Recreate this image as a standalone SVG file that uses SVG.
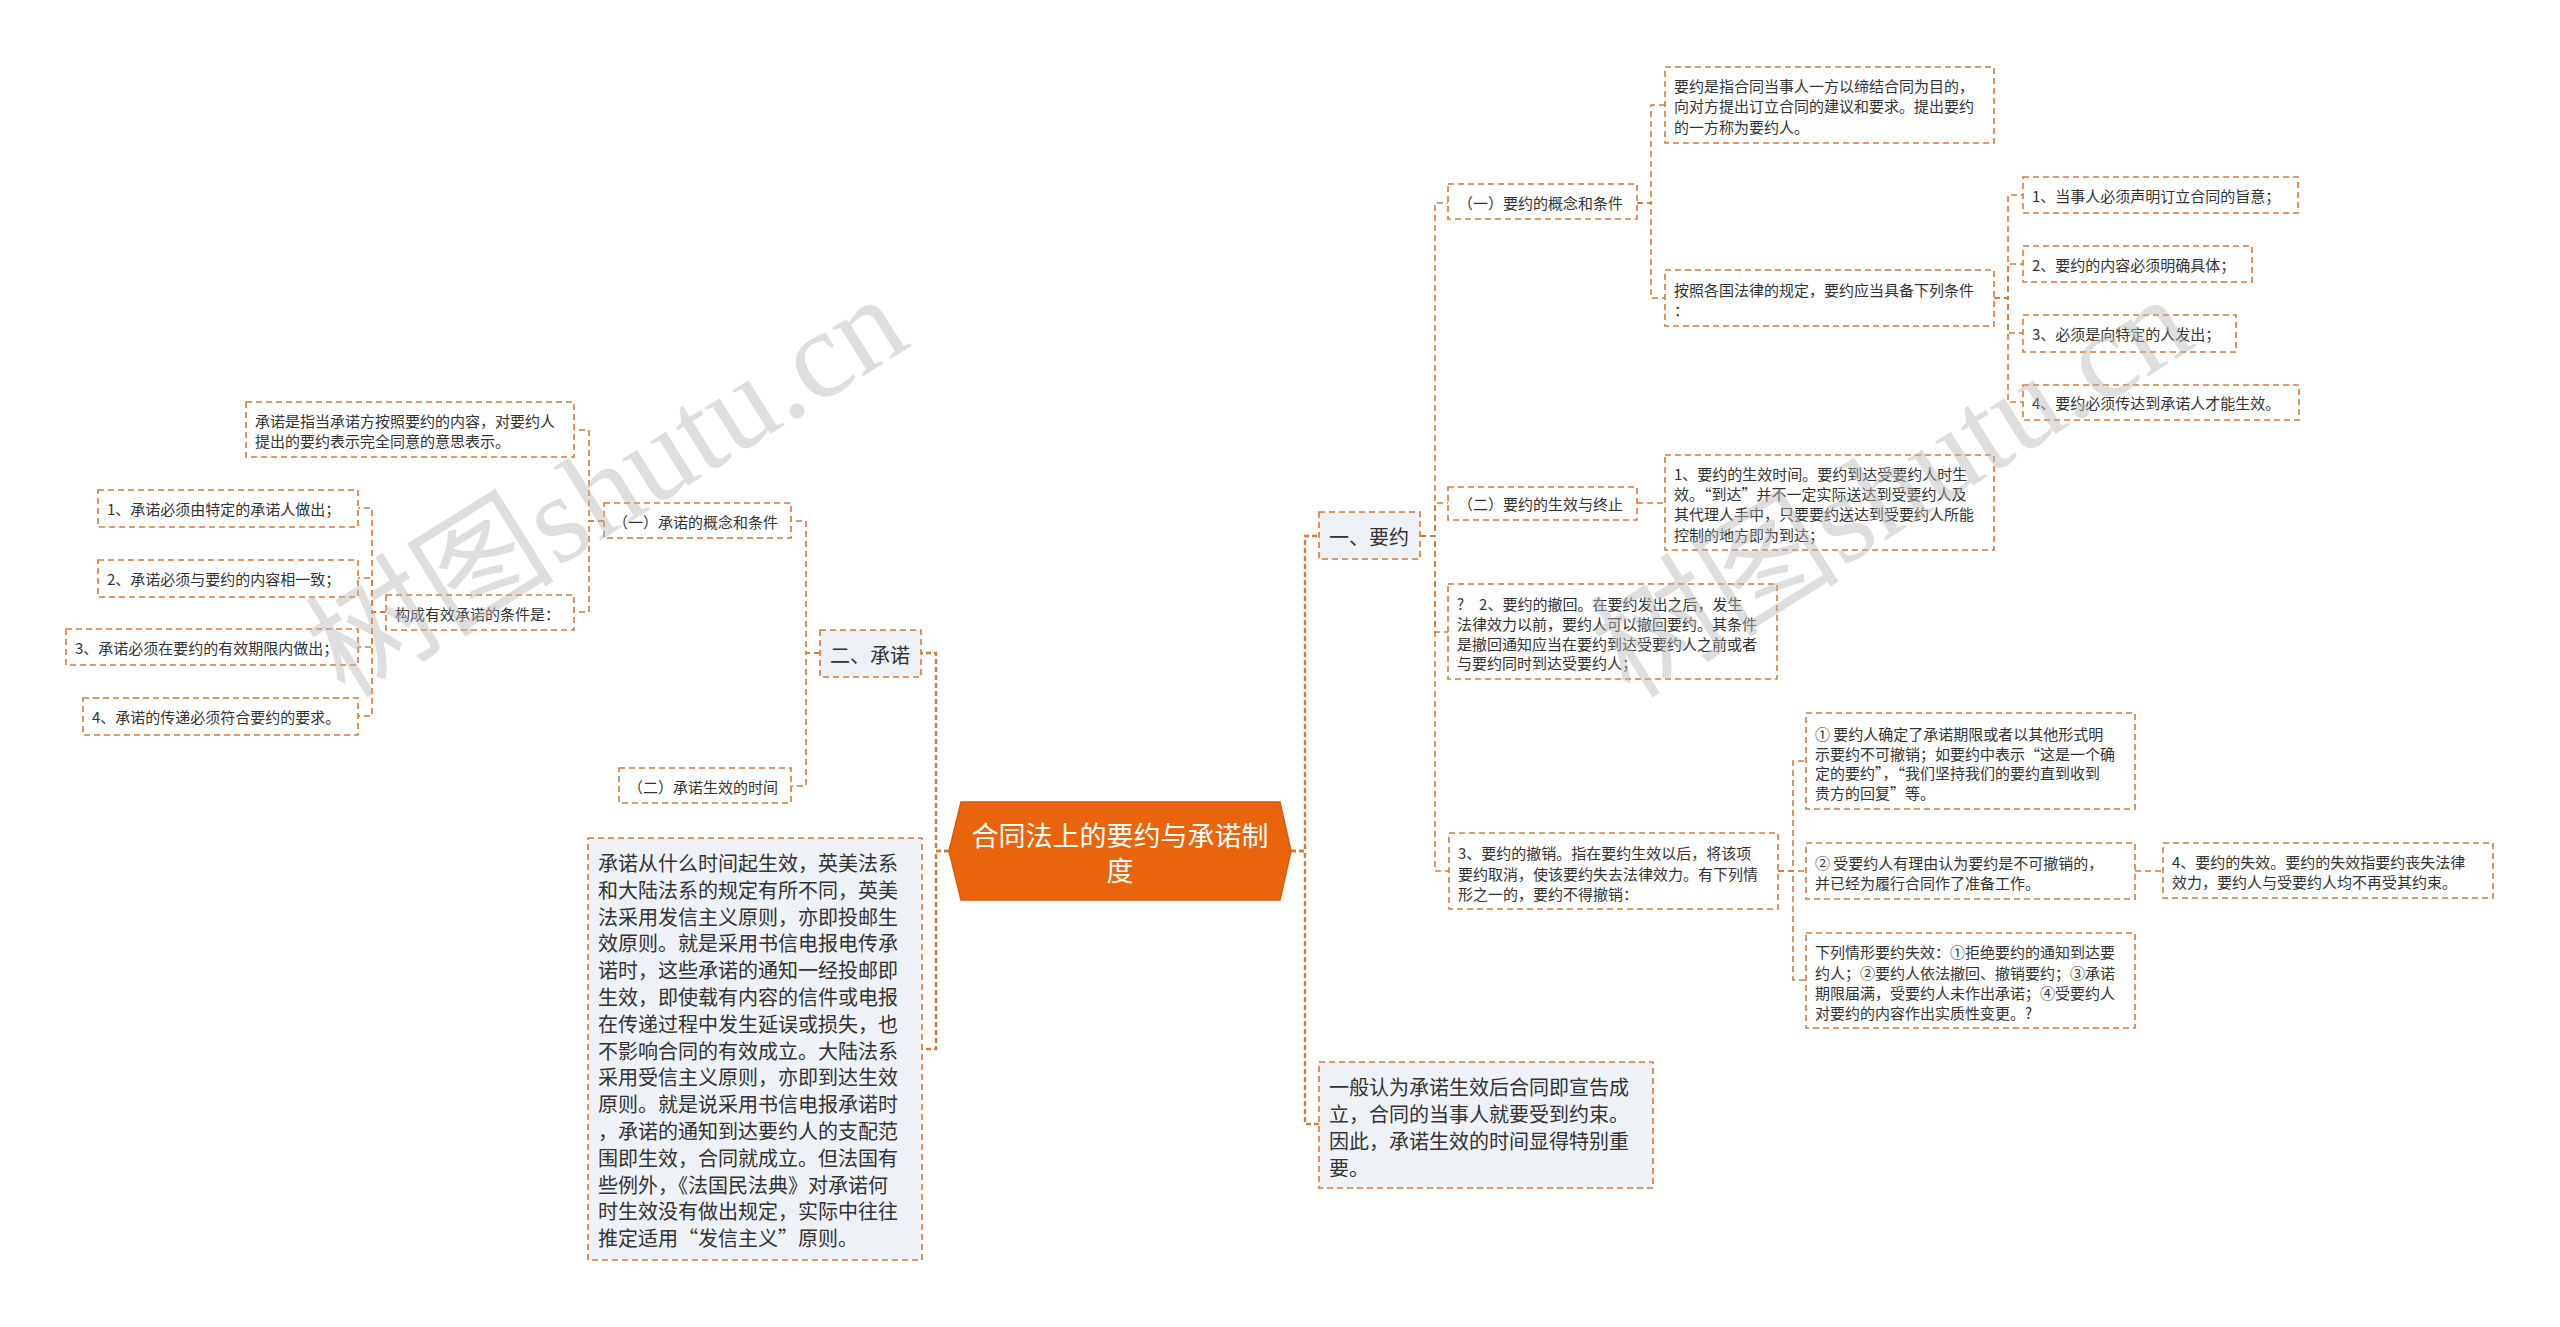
<svg xmlns="http://www.w3.org/2000/svg" width="2560" height="1327" viewBox="0 0 2560 1327">
<style>
.bg{fill:#fff}
.box{fill:#fff;stroke:#D67B38;stroke-width:1.6;stroke-dasharray:6 4}
.gray{fill:#EEF1F5}
.t{font-family:"Noto Sans CJK SC","Noto Sans",sans-serif;font-size:15px;fill:#333;dominant-baseline:central}
.t20{font-size:20px}
.root{fill:#EA640C;stroke:#D95A08;stroke-width:1.5}
.rt{font-family:"Noto Sans CJK SC","Noto Sans",sans-serif;font-size:27px;fill:#fff;text-anchor:middle;dominant-baseline:central}
.conn path{fill:none;stroke:#D67B38;stroke-width:1.6;stroke-dasharray:6 4}
.conn path.main{stroke-width:2.4;stroke-dasharray:5 3}
.wm{font-family:"Liberation Serif","Noto Sans CJK SC",serif;font-size:125px;fill:#b5b5b5;fill-opacity:0.45}
</style>
<rect class="bg" x="0" y="0" width="2560" height="1327"/>
<g id="connectors" class="conn">
<path class="main" d="M1291 851 H1305 V536 H1319"/>
<path class="main" d="M1291 851 H1305 V1124 H1319"/>
<path class="main" d="M949 851 H936 V653 H921"/>
<path class="main" d="M949 851 H936 V1049 H922"/>
<path d="M1420 536 H1435 V203 H1448"/>
<path d="M1420 536 H1435 V503 H1448"/>
<path d="M1420 536 H1435 V632 H1448"/>
<path d="M1420 536 H1435 V871 H1449"/>
<path d="M1637 203 H1651 V105 H1665"/>
<path d="M1637 203 H1651 V298 H1665"/>
<path d="M1994 298 H2008 V195 H2023"/>
<path d="M1994 298 H2008 V264 H2023"/>
<path d="M1994 298 H2008 V333 H2023"/>
<path d="M1994 298 H2008 V402 H2023"/>
<path d="M1637 503 H1665"/>
<path d="M1778 871 H1793 V761 H1806"/>
<path d="M1778 871 H1806"/>
<path d="M1778 871 H1793 V980 H1806"/>
<path d="M2135 871 H2163"/>
<path d="M820 653 H806 V521 H791"/>
<path d="M820 653 H806 V786 H791"/>
<path d="M604 521 H589 V430 H574"/>
<path d="M604 521 H589 V612 H574"/>
<path d="M386 612 H372 V508 H358"/>
<path d="M386 612 H372 V578 H358"/>
<path d="M386 612 H372 V647 H358"/>
<path d="M386 612 H372 V716 H358"/>
</g>
<g id="root">
<polygon class="root" points="949,851 961,802 1280,802 1291,851 1280,900 961,900"/>
<text class="rt" x="1120" y="834">合同法上的要约与承诺制</text>
<text class="rt" x="1120" y="869">度</text>
</g>
<g id="n-yaoyue">
<rect class="box gray" x="1319" y="512" width="101" height="47"/>
<text class="t t20" x="1329" y="536">一、要约</text>
</g>
<g id="n-yiban">
<rect class="box gray" x="1319" y="1062" width="334" height="126"/>
<text class="t t20" x="1329"><tspan x="1329" y="1086">一般认为承诺生效后合同即宣告成</tspan><tspan x="1329" y="1113">立，合同的当事人就要受到约束。</tspan><tspan x="1329" y="1140">因此，承诺生效的时间显得特别重</tspan><tspan x="1329" y="1167">要。</tspan></text>
</g>
<g id="n-b">
<rect class="box" x="1448" y="184" width="189" height="35"/>
<text class="t" x="1458" y="202">（一）要约的概念和条件</text>
</g>
<g id="n-a">
<rect class="box" x="1665" y="67" width="329" height="76"/>
<text class="t"><tspan x="1674" y="85">要约是指合同当事人一方以缔结合同为目的，</tspan><tspan x="1674" y="105">向对方提出订立合同的建议和要求。提出要约</tspan><tspan x="1674" y="126">的一方称为要约人。</tspan></text>
</g>
<g id="n-c">
<rect class="box" x="1665" y="270" width="329" height="56"/>
<text class="t"><tspan x="1674" y="289">按照各国法律的规定，要约应当具备下列条件</tspan><tspan x="1674" y="309">：</tspan></text>
</g>
<g id="n-d1">
<rect class="box" x="2023" y="177" width="275" height="36"/>
<text class="t" x="2032" y="195">1、当事人必须声明订立合同的旨意；</text>
</g>
<g id="n-d2">
<rect class="box" x="2023" y="246" width="229" height="36"/>
<text class="t" x="2032" y="264">2、要约的内容必须明确具体；</text>
</g>
<g id="n-d3">
<rect class="box" x="2023" y="315" width="213" height="37"/>
<text class="t" x="2032" y="333">3、必须是向特定的人发出；</text>
</g>
<g id="n-d4">
<rect class="box" x="2023" y="385" width="276" height="35"/>
<text class="t" x="2032" y="402">4、要约必须传达到承诺人才能生效。</text>
</g>
<g id="n-e">
<rect class="box" x="1448" y="487" width="189" height="33"/>
<text class="t" x="1458" y="503">（二）要约的生效与终止</text>
</g>
<g id="n-f">
<rect class="box" x="1665" y="455" width="329" height="95"/>
<text class="t"><tspan x="1674" y="473">1、要约的生效时间。要约到达受要约人时生</tspan><tspan x="1674" y="493">效。“到达”并不一定实际送达到受要约人及</tspan><tspan x="1674" y="513">其代理人手中，只要要约送达到受要约人所能</tspan><tspan x="1674" y="534">控制的地方即为到达；</tspan></text>
</g>
<g id="n-g">
<rect class="box" x="1448" y="584" width="329" height="95"/>
<text class="t" xml:space="preserve"><tspan x="1457" y="603">?　2、要约的撤回。在要约发出之后，发生</tspan><tspan x="1457" y="623">法律效力以前，要约人可以撤回要约。其条件</tspan><tspan x="1457" y="643">是撤回通知应当在要约到达受要约人之前或者</tspan><tspan x="1457" y="662">与要约同时到达受要约人；</tspan></text>
</g>
<g id="n-h">
<rect class="box" x="1449" y="833" width="329" height="76"/>
<text class="t"><tspan x="1458" y="852">3、要约的撤销。指在要约生效以后，将该项</tspan><tspan x="1458" y="873">要约取消，使该要约失去法律效力。有下列情</tspan><tspan x="1458" y="893">形之一的，要约不得撤销：</tspan></text>
</g>
<g id="n-i1">
<rect class="box" x="1806" y="713" width="329" height="96"/>
<text class="t"><tspan x="1815" y="733">① 要约人确定了承诺期限或者以其他形式明</tspan><tspan x="1815" y="753">示要约不可撤销；如要约中表示“这是一个确</tspan><tspan x="1815" y="772">定的要约”，“我们坚持我们的要约直到收到</tspan><tspan x="1815" y="792">贵方的回复”等。</tspan></text>
</g>
<g id="n-i2">
<rect class="box" x="1806" y="843" width="329" height="56"/>
<text class="t"><tspan x="1815" y="862">② 受要约人有理由认为要约是不可撤销的，</tspan><tspan x="1815" y="882">并已经为履行合同作了准备工作。</tspan></text>
</g>
<g id="n-i3">
<rect class="box" x="1806" y="933" width="329" height="95"/>
<text class="t"><tspan x="1815" y="951">下列情形要约失效：①拒绝要约的通知到达要</tspan><tspan x="1815" y="972">约人；②要约人依法撤回、撤销要约；③承诺</tspan><tspan x="1815" y="992">期限届满，受要约人未作出承诺；④受要约人</tspan><tspan x="1815" y="1012">对要约的内容作出实质性变更。?</tspan></text>
</g>
<g id="n-j">
<rect class="box" x="2163" y="843" width="330" height="55"/>
<text class="t"><tspan x="2172" y="861">4、要约的失效。要约的失效指要约丧失法律</tspan><tspan x="2172" y="881">效力，要约人与受要约人均不再受其约束。</tspan></text>
</g>
<g id="n-chengnuo">
<rect class="box gray" x="820" y="630" width="101" height="47"/>
<text class="t t20" x="830" y="654">二、承诺</text>
</g>
<g id="n-n">
<rect class="box" x="604" y="503" width="187" height="35"/>
<text class="t" x="613" y="521">（一）承诺的概念和条件</text>
</g>
<g id="n-o">
<rect class="box" x="619" y="768" width="172" height="35"/>
<text class="t" x="628" y="786">（二）承诺生效的时间</text>
</g>
<g id="n-p">
<rect class="box" x="246" y="402" width="328" height="55"/>
<text class="t"><tspan x="255" y="420">承诺是指当承诺方按照要约的内容，对要约人</tspan><tspan x="255" y="440">提出的要约表示完全同意的意思表示。</tspan></text>
</g>
<g id="n-q">
<rect class="box" x="386" y="595" width="188" height="35"/>
<text class="t" x="395" y="613">构成有效承诺的条件是：</text>
</g>
<g id="n-r1">
<rect class="box" x="98" y="490" width="260" height="37"/>
<text class="t" x="107" y="508">1、承诺必须由特定的承诺人做出；</text>
</g>
<g id="n-r2">
<rect class="box" x="98" y="560" width="260" height="37"/>
<text class="t" x="107" y="578">2、承诺必须与要约的内容相一致；</text>
</g>
<g id="n-r3">
<rect class="box" x="66" y="629" width="292" height="36"/>
<text class="t" x="75" y="647">3、承诺必须在要约的有效期限内做出；</text>
</g>
<g id="n-r4">
<rect class="box" x="83" y="698" width="275" height="37"/>
<text class="t" x="92" y="716">4、承诺的传递必须符合要约的要求。</text>
</g>
<g id="n-s">
<rect class="box gray" x="588" y="838" width="334" height="422"/>
<text class="t t20"><tspan x="598" y="862">承诺从什么时间起生效，英美法系</tspan><tspan x="598" y="888.8">和大陆法系的规定有所不同，英美</tspan><tspan x="598" y="915.6">法采用发信主义原则，亦即投邮生</tspan><tspan x="598" y="942.4">效原则。就是采用书信电报电传承</tspan><tspan x="598" y="969.2">诺时，这些承诺的通知一经投邮即</tspan><tspan x="598" y="996">生效，即使载有内容的信件或电报</tspan><tspan x="598" y="1022.8">在传递过程中发生延误或损失，也</tspan><tspan x="598" y="1049.6">不影响合同的有效成立。大陆法系</tspan><tspan x="598" y="1076.4">采用受信主义原则，亦即到达生效</tspan><tspan x="598" y="1103.2">原则。就是说采用书信电报承诺时</tspan><tspan x="598" y="1130">，承诺的通知到达要约人的支配范</tspan><tspan x="598" y="1156.8">围即生效，合同就成立。但法国有</tspan><tspan x="598" y="1183.6">些例外，《法国民法典》对承诺何</tspan><tspan x="598" y="1210.4">时生效没有做出规定，实际中往往</tspan><tspan x="598" y="1237.2">推定适用“发信主义”原则。</tspan></text>
</g>
<g id="watermark">
<text class="wm" transform="translate(345,700) rotate(-32)">树图shutu.cn</text>
<text class="wm" transform="translate(1630,700) rotate(-32)">树图shutu.cn</text>
</g>
</svg>
